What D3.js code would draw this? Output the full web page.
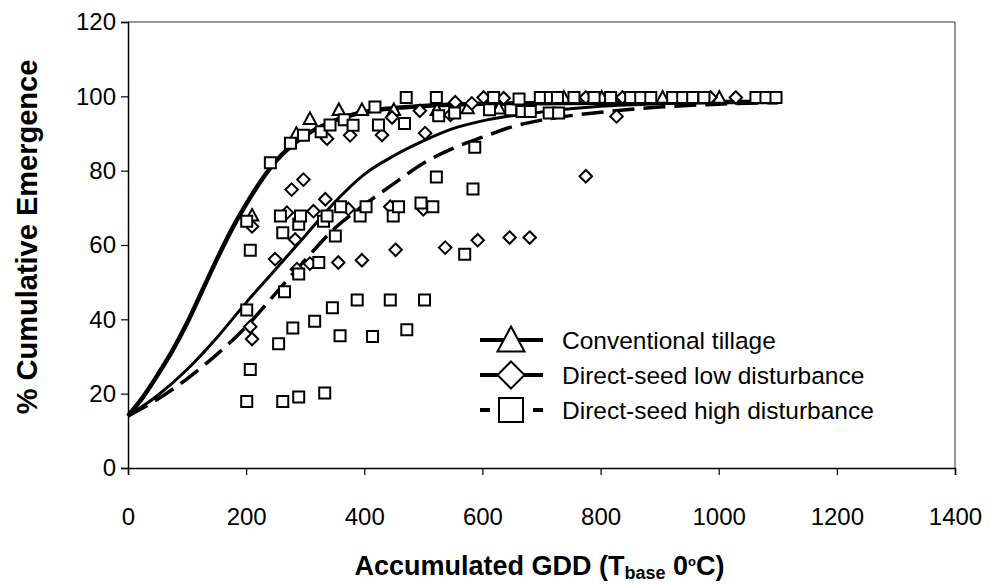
<!DOCTYPE html>
<html>
<head>
<meta charset="utf-8">
<script src="https://cdn.jsdelivr.net/npm/d3@7"></script>
<style>
  body { margin: 0; background: #fff; }
  text { font-family: "Liberation Sans", Arial, sans-serif; fill: #000; }
</style>
</head>
<body>
<div id="chart"></div>
<script>
// observed emergence (GDD, %)
var conventional = [
  [210, 68], [285, 90], [308, 94], [357, 96.4], [396, 96.4], [450, 96.4],
  [523, 96.4], [575, 96.9], [628, 96.8], [738, 99.7], [802, 99.7], [905, 99.7], [1001, 99.7]
];
var lowDist = [
  [210, 65], [207, 38], [210, 34.7], [249, 56.2], [269, 68.7], [277, 74.9], [283, 61.5],
  [286, 53.5], [297, 77.6], [308, 55], [314, 69.1], [334, 72.3], [337, 88.6], [356, 55.3],
  [373, 69.7], [376, 89.5], [396, 55.9], [430, 89.6], [444, 70.3], [447, 94.3], [453, 58.7],
  [494, 96.1], [500, 69.6], [503, 90.1], [537, 59.3], [546, 95], [554, 98.4], [582, 98.1],
  [592, 61.3], [602, 99.7], [636, 99.5], [646, 62], [680, 62], [775, 78.5], [827, 94.6],
  [775, 99.7], [837, 99.7], [986, 99.7], [1029, 99.7]
];
var highDist = [
  [201, 66.4], [201, 42.5], [201, 17.9], [207, 58.6], [207, 26.5], [241, 82.1], [255, 33.4],
  [258, 67.8], [262, 63.3], [262, 17.9], [265, 47.4], [275, 87.4], [279, 37.7], [289, 65.6],
  [289, 52.2], [289, 19.1], [292, 67.8], [297, 89.5], [316, 39.5], [323, 55.3], [327, 90.5],
  [331, 66.4], [333, 20.2], [337, 67.8], [342, 92.3], [346, 43.1], [351, 62.4], [359, 35.6],
  [360, 70.3], [366, 93.7], [381, 92.2], [388, 45.2], [393, 67.8], [403, 70.3], [414, 35.4],
  [418, 97.1], [424, 92.3], [444, 45.2], [449, 67.8], [458, 70.3], [468, 92.7], [471, 99.7],
  [472, 37.2], [496, 71.3], [502, 45.2], [516, 70.3], [522, 78.3], [522, 99.7], [526, 94.8],
  [553, 95.5], [570, 57.5], [584, 75.1], [587, 86.3], [612, 96.4], [619, 99.7], [648, 96.4],
  [662, 99.3], [667, 95.9], [681, 95.9], [698, 99.7], [713, 95.5], [715, 99.7], [727, 99.7],
  [729, 95.5], [755, 99.7], [789, 99.7], [817, 99.7], [851, 99.7], [868, 99.7], [885, 99.7],
  [922, 99.7], [939, 99.7], [956, 99.7], [975, 99.7], [1063, 99.7], [1080, 99.7], [1097, 99.7]
];

// fitted curves (GDD, %)
var conventionalFit = [
  [0, 14], [25, 19], [50, 25], [75, 31.5], [100, 39], [125, 47.5], [150, 56], [175, 64],
  [200, 71], [250, 82.5], [300, 89.5], [350, 93.5], [400, 95.8], [500, 97.4], [600, 98],
  [800, 98.3], [1100, 98.5]
];
var lowFit = [
  [0, 14], [50, 19.5], [100, 26.5], [150, 35], [200, 44.5], [250, 53.5], [300, 62.5],
  [350, 71.5], [400, 79], [450, 84], [500, 88], [550, 91.3], [600, 93.4], [700, 95.8],
  [800, 97.3], [900, 98], [1100, 98.5]
];
var highFit = [
  [0, 14], [50, 18.5], [100, 24], [150, 30.5], [200, 38], [250, 47], [300, 56], [350, 64.5],
  [400, 70.8], [450, 76.5], [500, 82], [550, 86], [600, 89], [650, 91.8], [700, 93.6],
  [800, 95.7], [900, 97.1], [1000, 97.9], [1100, 98.3]
];

var xTicks = [0, 200, 400, 600, 800, 1000, 1200, 1400];
var yTicks = [0, 20, 40, 60, 80, 100, 120];
var legendNames = ["Conventional tillage", "Direct-seed low disturbance", "Direct-seed high disturbance"];

var svgWidth = 991;
var svgHeight = 584;
var margin = { top: 22, right: 36, bottom: 116, left: 128 };
var width = svgWidth - margin.left - margin.right;
var height = svgHeight - margin.top - margin.bottom;

var svg = d3.select("#chart")
  .append("svg")
  .attr("width", svgWidth)
  .attr("height", svgHeight);

var chartGroup = svg.append("g")
  .attr("transform", `translate(${margin.left}, ${margin.top})`);

var xScale = d3.scaleLinear().domain([0, 1400]).range([0, width]);
var yScale = d3.scaleLinear().domain([0, 120]).range([height, 0]);

// frame (top and right)
chartGroup.append("path")
  .attr("d", `M0,0H${width}V${height}`)
  .attr("fill", "none")
  .attr("stroke", "#333")
  .attr("stroke-width", 1);

// axes
var bottomAxis = d3.axisBottom(xScale).tickValues(xTicks).tickFormat(d3.format("d"))
  .tickSize(7).tickPadding(33);
var leftAxis = d3.axisLeft(yScale).tickValues(yTicks).tickFormat(d3.format("d"))
  .tickSize(7).tickPadding(5);

var xAxisG = chartGroup.append("g")
  .attr("transform", `translate(0, ${height})`)
  .call(bottomAxis);
var yAxisG = chartGroup.append("g").call(leftAxis);

[xAxisG, yAxisG].forEach(function(g) {
  g.select(".domain").attr("stroke", "#000").attr("stroke-width", 1.5);
  g.selectAll(".tick line").attr("stroke", "#000").attr("stroke-width", 1.2);
  g.selectAll(".tick text")
    .attr("font-family", "Liberation Sans, Arial, sans-serif")
    .attr("font-size", "24px")
    .attr("fill", "#000");
});

// fitted curves
var line = d3.line()
  .x(d => xScale(d[0]))
  .y(d => yScale(d[1]))
  .curve(d3.curveMonotoneX);

var curves = [
  { data: conventionalFit, w: 4.5, dash: null },
  { data: lowFit, w: 3, dash: null },
  { data: highFit, w: 3.5, dash: "22,9" }
];
curves.forEach(function(c) {
  chartGroup.append("path")
    .datum(c.data)
    .attr("d", line)
    .attr("fill", "none")
    .attr("stroke", "#000")
    .attr("stroke-width", c.w)
    .attr("stroke-dasharray", c.dash)
    .attr("stroke-linejoin", "round");
});

// marker shapes
function marker(kind, s) {
  var h = s / 2;
  if (kind === "triangle") return `M0,${-h}L${h},${h * 0.85}L${-h},${h * 0.85}Z`;
  if (kind === "diamond") return `M0,${-h}L${h},0L0,${h}L${-h},0Z`;
  return `M${-h},${-h}H${h}V${h}H${-h}Z`;
}

var series = [
  { data: conventional, kind: "triangle", size: 12.5 },
  { data: lowDist, kind: "diamond", size: 12.5 },
  { data: highDist, kind: "square", size: 11 }
];
series.forEach(function(s) {
  chartGroup.append("g").selectAll("path")
    .data(s.data)
    .enter()
    .append("path")
    .attr("transform", d => `translate(${xScale(d[0])}, ${yScale(d[1])})`)
    .attr("d", marker(s.kind, s.size))
    .attr("fill", "#fff")
    .attr("stroke", "#000")
    .attr("stroke-width", 2);
});

// legend
var legend = svg.append("g").attr("transform", "translate(480, 340)");
var legendRows = [
  { kind: "triangle", size: 27, w: 4, dash: null, y: 0 },
  { kind: "diamond", size: 27, w: 4, dash: null, y: 35 },
  { kind: "square", size: 24, w: 4, dash: "10,43", y: 70 }
];
legendRows.forEach(function(r, i) {
  var g = legend.append("g").attr("transform", `translate(0, ${r.y})`);
  g.append("line")
    .attr("x1", 0).attr("x2", 63)
    .attr("stroke", "#000")
    .attr("stroke-width", r.w)
    .attr("stroke-dasharray", r.dash);
  g.append("path")
    .attr("transform", "translate(31, 0)")
    .attr("d", marker(r.kind, r.size))
    .attr("fill", "#fff")
    .attr("stroke", "#000")
    .attr("stroke-width", 2);
  g.append("text")
    .attr("x", 82)
    .attr("dy", "0.36em")
    .attr("font-size", "24.5px")
    .text(legendNames[i]);
});

// axis titles
svg.append("text")
  .attr("transform", "translate(37, 237) rotate(-90)")
  .attr("text-anchor", "middle")
  .attr("font-size", "29px")
  .attr("font-weight", "bold")
  .text("% Cumulative Emergence");

var xTitle = svg.append("text")
  .attr("x", margin.left + width / 2 - 2)
  .attr("y", 575)
  .attr("text-anchor", "middle")
  .attr("font-size", "27px")
  .attr("font-weight", "bold");
xTitle.append("tspan").text("Accumulated GDD (T");
xTitle.append("tspan").attr("font-size", "18px").attr("dy", "4").text("base");
xTitle.append("tspan").attr("dy", "-4").text(" 0");
xTitle.append("tspan").attr("font-size", "13px").attr("dy", "-9").text("o");
xTitle.append("tspan").attr("dy", "9").text("C)");
</script>
</body>
</html>
